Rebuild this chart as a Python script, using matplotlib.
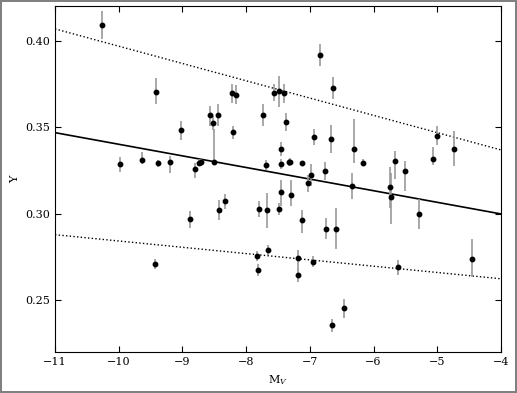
import numpy as np
import matplotlib.pyplot as plt

plt.rcParams['font.family'] = ['DejaVu Serif']
plt.rcParams['mathtext.fontset'] = 'dejavuserif'
plt.rcParams['font.size'] = 8
plt.rcParams['xtick.direction'] = 'in'
plt.rcParams['ytick.direction'] = 'in'
plt.rcParams['xtick.top'] = True
plt.rcParams['ytick.right'] = True
plt.rcParams['xtick.major.size'] = 4
plt.rcParams['ytick.major.size'] = 4

# 星团数据：绝对星等、氦丰度、误差（下, 上）
mv = [-10.26, -9.98, -9.63, -9.415, -9.39, -9.19, -9.03, -8.81, -8.74, -8.71,
      -8.56, -8.52, -8.50, -8.44, -8.227, -8.21, -8.16, -7.73, -7.69, -7.57,
      -7.48, -7.41, -7.37, -7.45, -7.45, -7.32, -7.31, -7.12, -6.98, -7.035,
      -6.94, -6.845, -6.757, -6.67, -6.64, -6.34, -6.31, -6.17, -5.74, -5.725,
      -5.66, -5.51, -5.07, -5.01, -4.74, -5.29, -9.43, -8.88, -8.43, -8.33,
      -7.80, -7.67, -7.83, -7.81, -7.65, -7.48, -7.45, -7.30, -7.12, -6.75,
      -6.59, -7.185, -7.19, -6.95, -6.46, -6.66, -5.61, -4.46]
y_val = [0.4093, 0.3286, 0.3311, 0.3707, 0.3293, 0.3301, 0.3484, 0.3261, 0.3295, 0.3299,
         0.3573, 0.3527, 0.3303, 0.3573, 0.3699, 0.3471, 0.3689, 0.3572, 0.3283, 0.3701,
         0.3710, 0.3699, 0.3531, 0.3374, 0.3287, 0.3299, 0.3303, 0.3297, 0.3226, 0.3177,
         0.3446, 0.3919, 0.3247, 0.3432, 0.3728, 0.3162, 0.3377, 0.3295, 0.3154, 0.3099,
         0.3305, 0.3250, 0.3320, 0.3452, 0.3374, 0.3002, 0.2712, 0.2969, 0.3023, 0.3073,
         0.3029, 0.3021, 0.2757, 0.2677, 0.2790, 0.3029, 0.3127, 0.3112, 0.2967, 0.2915,
         0.2915, 0.2745, 0.2644, 0.2724, 0.2455, 0.2355, 0.2691, 0.2741]
err_lo = [0.008, 0.0042, 0.002, 0.0072, 0.002, 0.0064, 0.0055, 0.0056, 0.002, 0.002,
          0.0066, 0.004, 0.001, 0.0066, 0.0055, 0.004, 0.0055, 0.0062, 0.003, 0.005,
          0.009, 0.0055, 0.005, 0.004, 0.003, 0.002, 0.002, 0.001, 0.0065, 0.0048,
          0.0045, 0.0066, 0.0053, 0.0082, 0.0063, 0.0073, 0.008, 0.002, 0.012, 0.016,
          0.0105, 0.012, 0.0035, 0.0054, 0.0095, 0.009, 0.003, 0.005, 0.006, 0.0045,
          0.0045, 0.0105, 0.003, 0.0035, 0.003, 0.0035, 0.0080, 0.0068, 0.0077, 0.0062,
          0.012, 0.0068, 0.0035, 0.003, 0.0055, 0.004, 0.0045, 0.0106]
err_hi = [0.008, 0.0042, 0.005, 0.0077, 0.002, 0.0032, 0.0055, 0.0035, 0.002, 0.002,
          0.0054, 0.004, 0.019, 0.0064, 0.0055, 0.004, 0.0055, 0.0062, 0.003, 0.005,
          0.009, 0.0055, 0.005, 0.004, 0.003, 0.002, 0.002, 0.001, 0.0065, 0.0048,
          0.0045, 0.0066, 0.0053, 0.0082, 0.0063, 0.0073, 0.017, 0.002, 0.012, 0.014,
          0.006, 0.0054, 0.0068, 0.0054, 0.0104, 0.0085, 0.003, 0.005, 0.0055, 0.0045,
          0.0045, 0.0100, 0.003, 0.0035, 0.003, 0.0035, 0.0070, 0.0087, 0.0058, 0.0062,
          0.012, 0.0048, 0.0035, 0.003, 0.0055, 0.004, 0.0045, 0.0114]

# 线性拟合及其上下包络
line_x = [-11, -4]
fit_y = [0.347, 0.300]
upper_y = [0.407, 0.337]
lower_y = [0.288, 0.2625]

fig = plt.figure(figsize=(5.17, 3.93), dpi=100)
fig.patch.set_edgecolor('0.5')
fig.patch.set_linewidth(1.5)
ax = fig.add_axes([0.1064, 0.1036, 0.8626, 0.8801])

ax.errorbar(mv, y_val, yerr=[err_lo, err_hi], fmt='o', color='black',
            ecolor='0.6', elinewidth=1.2, markersize=3.2, capsize=0, zorder=3)
ax.plot(line_x, fit_y, color='black', linewidth=1.2)
ax.plot(line_x, upper_y, color='black', linestyle=':', linewidth=1.0)
ax.plot(line_x, lower_y, color='black', linestyle=':', linewidth=1.0)

ax.set_xlim(-11, -4)
ax.set_ylim(0.22, 0.42)
ax.set_xticks(np.arange(-11, -3, 1))
ax.set_yticks([0.25, 0.30, 0.35, 0.40])
ax.set_xlabel(r'$\mathrm{M}_V$')
ax.set_ylabel('Y')

plt.savefig('out.png', dpi=100)
